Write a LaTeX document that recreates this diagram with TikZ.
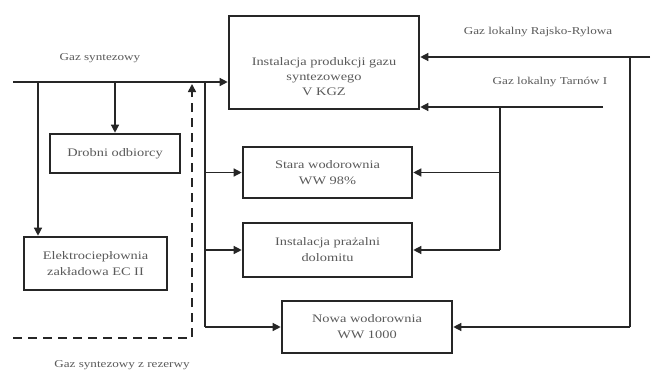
\documentclass[tikz,border=0pt]{standalone}
\usepackage{fontspec}
\setmainfont[FakeStretch=1.25]{Liberation Serif}
\usetikzlibrary{arrows.meta}
\definecolor{linec}{HTML}{262626}
\definecolor{textc}{HTML}{5A5A5A}
\begin{document}
\begin{tikzpicture}[x=1pt,y=-1pt,
  box/.style={draw=linec, line width=2.6pt, inner sep=0pt, align=center,
    text=textc, font=\fontsize{11.5}{16}\selectfont},
  flow/.style={draw=linec, line width=1.3pt, -{Triangle[length=8pt,width=8pt]}},
  plain/.style={draw=linec, line width=1.3pt},
  dashline/.style={draw=linec, line width=1.6pt, dash pattern=on 9pt off 6pt},
  lbl/.style={text=textc, inner sep=0pt, font=\fontsize{10.5}{12}\selectfont}]
\useasboundingbox (0,0) rectangle (653,372);
\fill[white] (0,0) rectangle (653,372);
% boxes
\node[box, minimum width=190pt, minimum height=93pt] (kgz) at (324,62.5) {};
\node[text=textc, align=center, inner sep=0pt, font=\fontsize{11.5}{15}\selectfont] (kgzt) at (324,77)
  {Instalacja produkcji gazu\\syntezowego\\V KGZ};
\node[box, minimum width=130pt, minimum height=39pt] (drob) at (115,153.5) {Drobni odbiorcy};
\node[box, minimum width=143pt, minimum height=53pt] (elec) at (95.5,263.5) {Elektrociepłownia\\zakładowa EC II};
\node[box, minimum width=169pt, minimum height=51pt] (stara) at (327.5,172.5) {Stara wodorownia\\WW 98\%};
\node[box, minimum width=169pt, minimum height=54pt] (inst) at (327.5,250) {Instalacja prażalni\\dolomitu};
\node[box, minimum width=170pt, minimum height=52pt] (nowa) at (367,327) {Nowa wodorownia\\WW 1000};
% labels
\node[lbl] (l1) at (100,58) {Gaz syntezowy};
\node[lbl] (l2) at (538,32) {Gaz lokalny Rajsko-Rylowa};
\node[lbl] (l3) at (550,82) {Gaz lokalny Tarnów I};
\node[lbl] (l4) at (122,365) {Gaz syntezowy z rezerwy};
% coordinates
\coordinate (s0) at (13,82);
\coordinate (j1) at (38,82);
\coordinate (j2) at (115,82);
\coordinate (j3) at (205,82);
\coordinate (j3b) at (205,327);
\coordinate (d0) at (13,338);
\coordinate (d1) at (192,338);
\coordinate (d2) at (192,84);
\coordinate (d3) at (192,96);
\coordinate (r0) at (650,57);
\coordinate (r1) at (630,57);
\coordinate (r2) at (630,327);
\coordinate (t0) at (603,107);
\coordinate (t1) at (500,107);
\coordinate (t2) at (500,250);
% left connectors
\draw[flow] (s0) -- (s0 -| kgz.west);
\draw[flow] (j1) -- (j1 |- elec.north);
\draw[flow] (j2) -- (drob.north);
\draw[plain] (j3) -- (j3b);
\draw[flow] (j3 |- stara.west) -- (stara.west);
\draw[flow] (j3 |- inst.west) -- (inst.west);
\draw[flow] (j3b) -- (nowa.west);
\draw[dashline] (d0) -- (d1) -- (d3);
\draw[flow, line width=1.6pt] (d3) -- (d2);
% right connectors
\draw[flow] (r0) -- (r0 -| kgz.east);
\draw[plain] (r1) -- (r2);
\draw[flow] (r2) -- (nowa.east);
\draw[flow] (t0) -- (t0 -| kgz.east);
\draw[plain] (t1) -- (t2);
\draw[flow] (t1 |- stara.east) -- (stara.east);
\draw[flow] (t2) -- (inst.east);
\end{tikzpicture}
\end{document}
